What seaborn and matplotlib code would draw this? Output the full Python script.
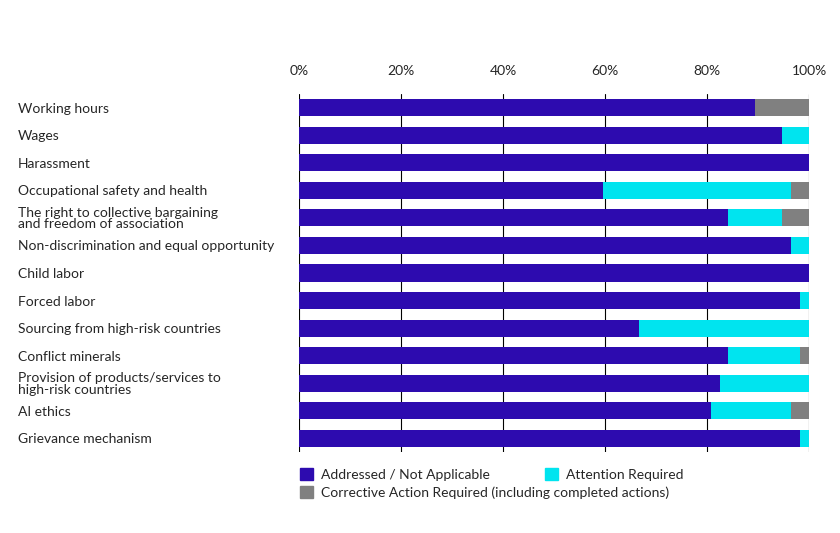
import matplotlib
matplotlib.use("Agg")
import matplotlib.pyplot as plt
import seaborn as sns
import pandas as pd
from matplotlib.patches import Patch

categories = ["Working hours", "Wages", "Harassment", "Occupational safety and health",
              "The right to collective bargaining\nand freedom of association",
              "Non-discrimination and equal opportunity", "Child labor", "Forced labor",
              "Sourcing from high-risk countries", "Conflict minerals",
              "Provision of products/services to\nhigh-risk countries", "AI ethics",
              "Grievance mechanism"]
addressed = [89.5, 94.7, 100, 59.6, 84.2, 96.5, 100, 98.2, 66.7, 84.2, 82.5, 80.7, 98.2]
attention = [0, 5.3, 0, 36.9, 10.5, 3.5, 0, 1.8, 33.3, 14.0, 17.5, 15.8, 1.8]
corrective = [10.5, 0, 0, 3.5, 5.3, 0, 0, 0, 0, 1.8, 0, 3.5, 0]
series = ["Addressed / Not Applicable", "Attention Required",
          "Corrective Action Required (including completed actions)"]
colors = ["#2D0BAF", "#00E4EF", "#808080"]

sns.set_style("white")
plt.rcParams["font.family"] = ["Lato", "DejaVu Sans"]

df = pd.DataFrame({"cat": categories, "a": addressed, "b": attention, "c": corrective})
df["ab"] = df["a"] + df["b"]
df["abc"] = df["ab"] + df["c"]

fig = plt.figure(figsize=(8.4, 5.33), dpi=100)
ax = fig.add_axes([299/840, 1-452/533, 510/840, (452-94)/533])
for col, color in zip(["abc", "ab", "a"], colors[::-1]):
    sns.barplot(data=df, x=col, y="cat", color=color, width=0.62, ax=ax,
                orient="h", saturation=1, linewidth=0)

ax.set_xlim(0, 100)
ax.set_xticks(range(0, 101, 20))
ax.set_xticklabels([f"{v}%" for v in range(0, 101, 20)], fontsize=10)
ax.xaxis.tick_top()
ax.tick_params(axis="x", length=0, pad=12)
ax.tick_params(axis="y", length=0, pad=(299 - 18) * 0.72)
ax.set_yticklabels(categories, fontsize=10, ha="left", linespacing=0.95)
ax.set_xlabel("")
ax.set_ylabel("")
ax.grid(axis="x", color="black", linewidth=0.8)
ax.set_axisbelow(True)
for s in ax.spines.values():
    s.set_visible(False)

handles = [Patch(color=c) for c in colors]
kw = dict(frameon=False, fontsize=10, handlelength=0.9, handleheight=0.9,
          handletextpad=0.6, borderpad=0, borderaxespad=0)
leg1 = fig.legend(handles[:2], series[:2], loc="upper left",
                  bbox_to_anchor=(300/840, 1-468/533), ncol=2, columnspacing=4.0, **kw)
fig.legend(handles[2:], series[2:], loc="upper left",
           bbox_to_anchor=(300/840, 1-486/533), **kw)

fig.savefig("out.png", dpi=100)
